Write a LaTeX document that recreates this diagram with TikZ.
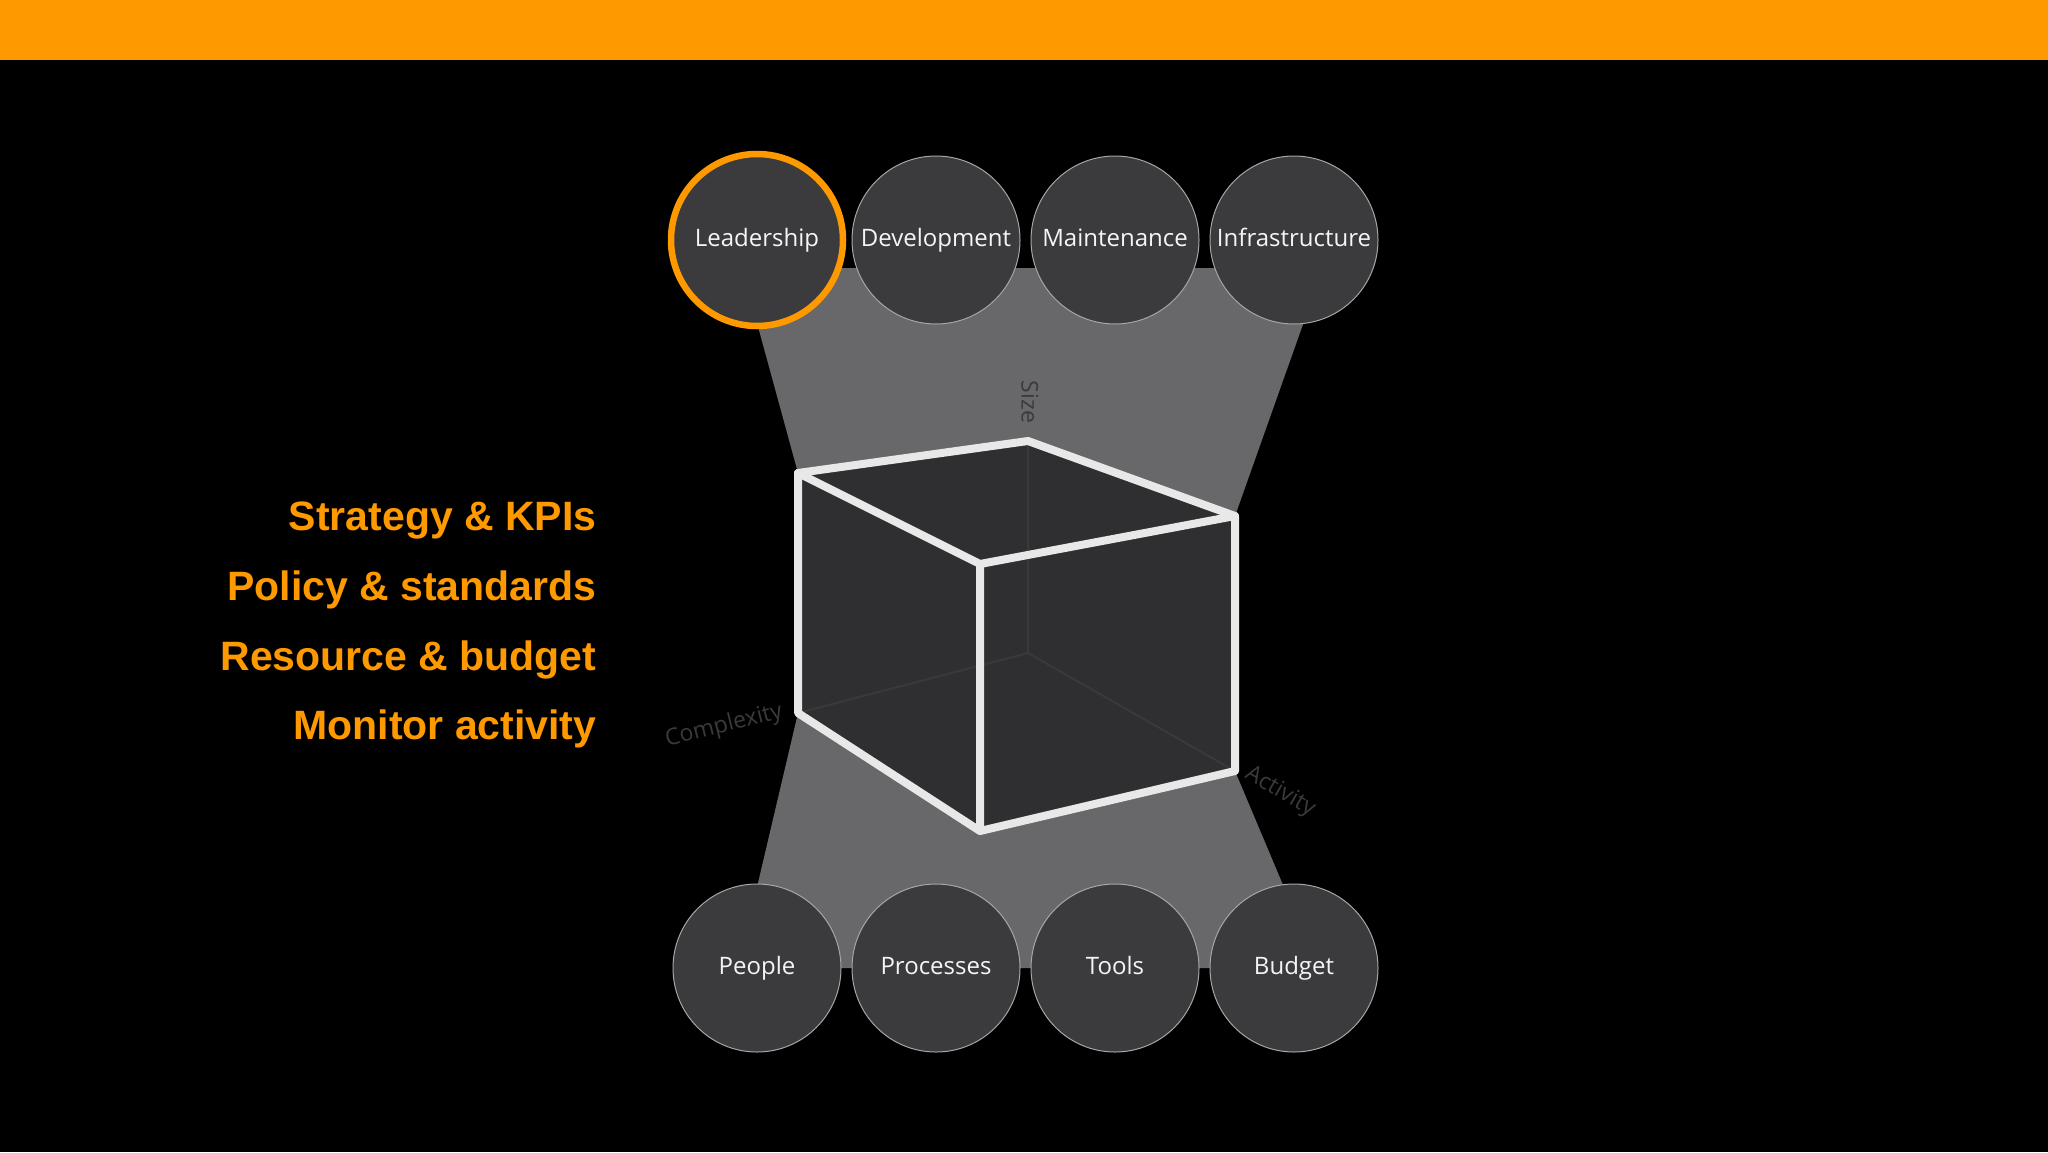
\documentclass[tikz,border=0pt]{standalone}
\usepackage{fontspec}
\setmainfont{Open Sans}
\newfontfamily\arialb{Liberation Sans}
\definecolor{org}{HTML}{FF9900}
\definecolor{circ}{HTML}{3B3B3D}
\definecolor{trap}{HTML}{68686A}
\definecolor{face}{HTML}{2F2F31}
\definecolor{edge}{HTML}{E8E8E8}
\definecolor{axl}{HTML}{3A3A3A}
\tikzset{
  bub/.style={circle,draw=gray!70,line width=1pt,fill=circ,minimum size=168pt,inner sep=0pt,text height=17pt,text depth=5pt,font=\fontsize{24}{26}\selectfont,text=white!92!gray},
  lefttxt/.style={anchor=east,font=\arialb\bfseries\fontsize{41}{45}\selectfont,text=org},
  cubeedge/.style={draw=edge,line width=8pt,line join=round,line cap=round},
  axlab/.style={text=axl,font=\fontsize{23}{25}\selectfont}
}
\begin{document}
\begin{tikzpicture}[x=1pt,y=-1pt]
\fill[black] (0,0) rectangle (2048,1152);
\useasboundingbox (0,0) rectangle (2048,1152);
\fill[org] (0,0) rectangle (2048,60);
% trapezoids
\fill[trap] (742,268) -- (1323,268) -- (1235,516) -- (798,473) -- cycle;
\fill[trap] (798,713) -- (1235,771) -- (1318,968) -- (738,968) -- cycle;
% cube
\coordinate (tb) at (1028,441);
\coordinate (tl) at (798,473);
\coordinate (tr) at (1235,516);
\coordinate (ft) at (980,564);
\coordinate (fb) at (980,831);
\coordinate (bl) at (798,713);
\coordinate (br) at (1235,771);
\coordinate (bb) at (1028,653);
\fill[face] (tl) -- (tb) -- (tr) -- (br) -- (fb) -- (bl) -- cycle;
\draw[gray!45!black,line width=2pt] (tb) -- (bb) (bl) -- (bb) -- (br);
\draw[cubeedge] (tl) -- (tb) -- (tr) -- (br) -- (fb) -- (bl) -- cycle;
\draw[cubeedge] (tl) -- (ft) -- (tr) (ft) -- (fb);
% axis labels
\node[axlab,rotate=-90] (size) at (1030,402) {Size};
\node[axlab,rotate=14] (cplx) at (724,726) {Complexity};
\node[axlab,rotate=-30] (act) at (1280,792) {Activity};
% circles
\node[bub] (lead) at (757,240) {Leadership};
\draw[org,line width=6.5pt] (lead.center) circle (86pt);
\node[bub] (dev) at (936,240) {Development};
\node[bub] (mnt) at (1115,240) {Maintenance};
\node[bub] (inf) at (1294,240) {Infrastructure};
\node[bub] (ppl) at (757,968) {People};
\node[bub] (prc) at (936,968) {Processes};
\node[bub] (tls) at (1115,968) {Tools};
\node[bub] (bdg) at (1294,968) {Budget};
% left text
\node[lefttxt] (t1) at (600,521) {Strategy \& KPIs};
\node[lefttxt] (t2) at (600,590) {Policy \& standards};
\node[lefttxt] (t3) at (600,660) {Resource \& budget};
\node[lefttxt] (t4) at (600,729) {Monitor activity};
\end{tikzpicture}
\end{document}
